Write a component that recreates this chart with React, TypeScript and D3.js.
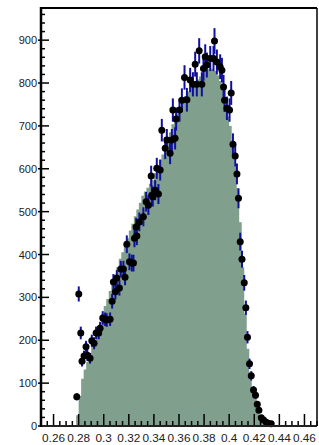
import React from 'react'
import * as d3 from 'd3'

// histogram (MC) - bins of 0.002 starting at 0.278
const binStart = 0.278
const binWidth = 0.002
const histCounts = [
  25, 70, 110, 132, 150, 170, 186, 200, 218, 236,
  260, 280, 296, 315, 332, 352, 370, 390, 405, 420,
  438, 456, 472, 489, 505, 521, 537, 547, 556, 565,
  574, 590, 605, 621, 633, 645, 665, 685, 704, 716,
  729, 742, 758, 770, 780, 790, 797, 802, 808, 815,
  822, 828, 832, 834, 832, 828, 818, 805, 785, 750,
  722, 700, 650, 605, 555, 475, 370, 262, 180, 125,
  90, 64, 37, 22, 8, 2
]

// data points
const pointX = [
  0.2785, 0.2801, 0.2817, 0.2827, 0.2843, 0.2859, 0.2869, 0.2891, 0.2905, 0.2923,
  0.2939, 0.2960, 0.2971, 0.2992, 0.3011, 0.3024, 0.3051, 0.3067, 0.3077, 0.3093,
  0.3104, 0.3125, 0.3136, 0.3157, 0.3170, 0.3184, 0.3205, 0.3224, 0.3237, 0.3245,
  0.3258, 0.3264, 0.3284, 0.3316, 0.3338, 0.3356, 0.3378, 0.3383, 0.3391, 0.3410,
  0.3423, 0.3436, 0.3450, 0.3463, 0.3490, 0.3503, 0.3529, 0.3543, 0.3551, 0.3569,
  0.3577, 0.3604, 0.3623, 0.3644, 0.3663, 0.3689, 0.3711, 0.3729, 0.3742, 0.3761,
  0.3782, 0.3795, 0.3809, 0.3822, 0.3849, 0.3875, 0.3883, 0.3902, 0.3928, 0.3942,
  0.3955, 0.3963, 0.3982, 0.4003, 0.4016, 0.4030, 0.4048, 0.4062, 0.4074, 0.4088,
  0.4102, 0.4120, 0.4133, 0.4146, 0.4162, 0.4176, 0.4194, 0.4210, 0.4224, 0.4237,
  0.4256, 0.4274, 0.4296, 0.4314, 0.4335
]
const pointY = [
  68, 308, 217, 151, 163, 185, 165, 158, 199, 193,
  217, 217, 228, 252, 249, 247, 249, 291, 336, 313,
  345, 322, 366, 366, 347, 424, 383, 380, 380, 438,
  464, 443, 476, 488, 523, 515, 583, 538, 535, 550,
  601, 541, 597, 690, 648, 667, 636, 667, 737, 671,
  716, 737, 760, 813, 761, 807, 797, 844, 797, 875,
  797, 834, 861, 842, 857, 857, 898, 849, 838, 830,
  791, 760, 741, 737, 777, 657, 630, 588, 531, 430,
  389, 334, 276, 207, 145, 117, 84, 72, 51, 37,
  19, 14, 9, 6, 5
]

const yTicks = [0, 100, 200, 300, 400, 500, 600, 700, 800, 900]
const xTicks = [0.26, 0.28, 0.3, 0.32, 0.34, 0.36, 0.38, 0.4, 0.42, 0.44, 0.46]
const xTickLabels = ['0.26', '0.28', '0.3', '0.32', '0.34', '0.36', '0.38', '0.4', '0.42', '0.44', '0.46']

const W = 319, H = 445
const left = 41, right = 317, top = 8, bottom = 426
const font = '"Liberation Sans", Arial, sans-serif'

export default function App() {
  const x = d3.scaleLinear().domain([0.25, 0.47]).range([left, right])
  const y = d3.scaleLinear().domain([0, 975]).range([bottom, top])

  // step outline for the histogram
  const edges = histCounts.map((c, i) => ({ x: binStart + i * binWidth, c }))
  edges.push({ x: binStart + histCounts.length * binWidth, c: 0 })
  const area = d3.area<{ x: number; c: number }>()
    .x(d => x(d.x))
    .y0(y(0))
    .y1(d => y(d.c))
    .curve(d3.curveStepAfter)

  const xMinor = d3.range(0.25, 0.4701, 0.005)
  const yMinor = d3.range(0, 975, 20)

  return (
    <svg width={W} height={H} style={{ position: 'absolute', left: 0, top: 0 }}>
      <rect x={0} y={0} width={W} height={H} fill="#fff" />
      <path d={area(edges) || ''} fill="#809f8c" />

      {/* x ticks, pointing up */}
      {xMinor.map((v, i) => {
        const major = xTicks.some(t => Math.abs(t - v) < 1e-6)
        return (
          <line key={'xm' + i} x1={x(v)} x2={x(v)} y1={bottom} y2={bottom - (major ? 12 : 5)}
            stroke="#000" strokeWidth={1.5} />
        )
      })}
      {/* y ticks */}
      {yMinor.map((v, i) => {
        const major = v % 100 === 0
        return (
          <line key={'ym' + i} x1={major ? left - 3 : left} x2={left + (major ? 8 : 4)}
            y1={y(v)} y2={y(v)} stroke="#000" strokeWidth={1.5} />
        )
      })}

      {/* data points */}
      {pointX.map((v, i) => {
        const e = Math.sqrt(pointY[i])
        return (
          <line key={'e' + i} x1={x(v)} x2={x(v)} y1={y(pointY[i] - e)} y2={y(pointY[i] + e)}
            stroke="#10109e" strokeWidth={2} />
        )
      })}
      {pointX.map((v, i) => (
        <circle key={'p' + i} cx={x(v)} cy={y(pointY[i])} r={3.5} fill="#000" />
      ))}

      {/* frame */}
      <line x1={left} x2={right} y1={top} y2={top} stroke="#000" strokeWidth={2} />
      <line x1={right} x2={right} y1={top} y2={bottom} stroke="#000" strokeWidth={1.5} />
      <line x1={left} x2={right} y1={bottom} y2={bottom} stroke="#222" strokeWidth={2} />
      <line x1={left} x2={left} y1={top - 1} y2={bottom + 1} stroke="#000" strokeWidth={2.5} />

      {yTicks.map(v => (
        <text key={'yl' + v} x={37} y={y(v) + 4} textAnchor="end" fontFamily={font} fontSize={11} fill="#222">
          {v}
        </text>
      ))}
      {xTicks.map((v, i) => (
        <text key={'xl' + i} x={x(v)} y={442} textAnchor="middle" fontFamily={font} fontSize={11.8} fill="#222">
          {xTickLabels[i]}
        </text>
      ))}
    </svg>
  )
}
